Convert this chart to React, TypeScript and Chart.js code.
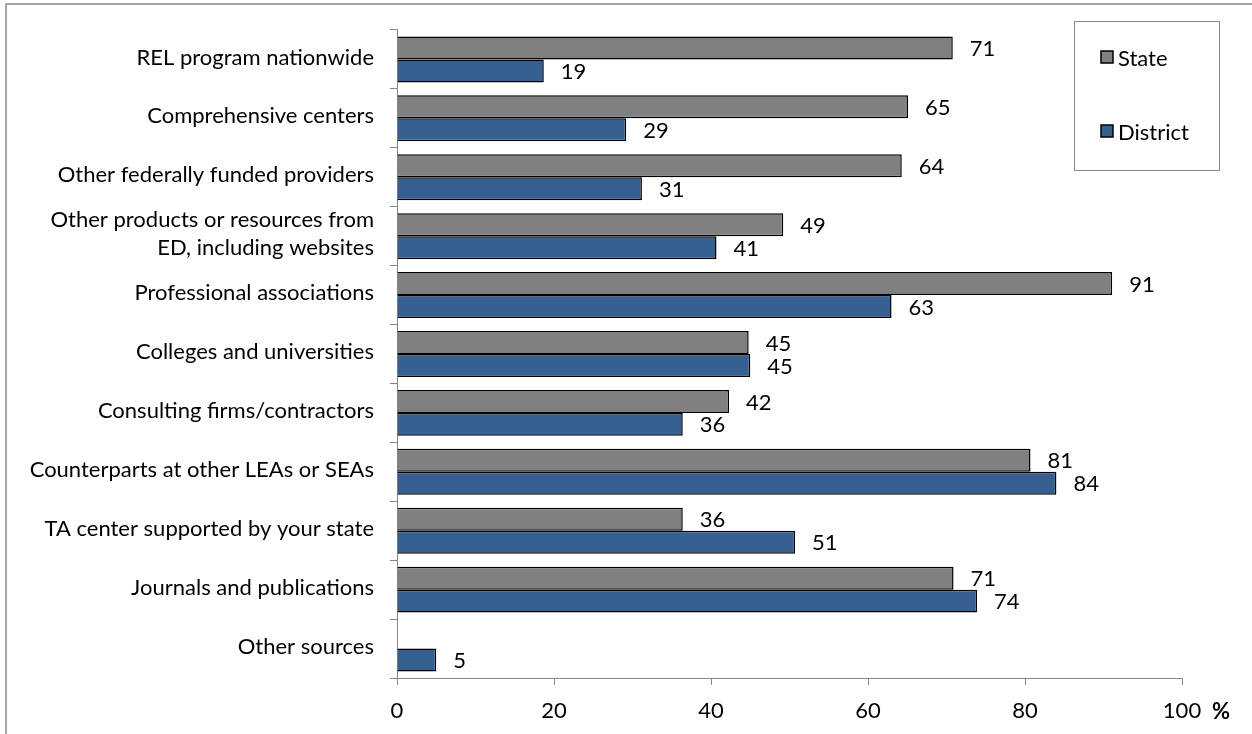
import React, { useEffect, useRef } from "react";
import { Chart, registerables } from "chart.js";

Chart.register(...registerables);

const categories: (string | string[])[] = [
  "REL program nationwide",
  "Comprehensive centers",
  "Other federally funded providers",
  ["Other products or resources from", "ED, including websites"],
  "Professional associations",
  "Colleges and universities",
  "Consulting firms/contractors",
  "Counterparts at other LEAs or SEAs",
  "TA center supported by your state",
  "Journals and publications",
  "Other sources",
];

const stateValues: (number | null)[] = [70.8, 65.1, 64.3, 49.2, 91.1, 44.8, 42.3, 80.7, 36.4, 70.9, null];
const districtValues: (number | null)[] = [18.7, 29.2, 31.2, 40.7, 63.0, 45.0, 36.4, 84.0, 50.7, 73.9, 5.0];

const xTicks = [0, 20, 40, 60, 80, 100];
const seriesNames = ["State", "District"];
const seriesColors = ["#808080", "#376092"];

const FONT = "Lato";
const FS = 22;
const AXIS = "#868686";

const bgPlugin = {
  id: "bgBorder",
  beforeDraw(chart: any) {
    const ctx = chart.ctx;
    ctx.save();
    ctx.fillStyle = "#fff";
    ctx.fillRect(0, 0, chart.width, chart.height);
    ctx.strokeStyle = "#898989";
    ctx.lineWidth = 1.5;
    ctx.beginPath();
    ctx.moveTo(6, chart.height);
    ctx.lineTo(6, 4);
    ctx.lineTo(chart.width, 4);
    ctx.stroke();
    ctx.restore();
  },
};

const labelPlugin = {
  id: "valueLabels",
  afterDatasetsDraw(chart: any) {
    const ctx = chart.ctx;
    ctx.save();
    ctx.font = `${FS}px ${FONT}`;
    ctx.fillStyle = "#000";
    ctx.textAlign = "left";
    ctx.textBaseline = "middle";
    chart.data.datasets.forEach((ds: any, di: number) => {
      const meta = chart.getDatasetMeta(di);
      meta.data.forEach((el: any, i: number) => {
        const v = ds.data[i];
        if (v === null || v === undefined) return;
        ctx.fillText(String(Math.round(v)), el.x + 17, el.y + 1);
      });
    });
    // axis unit
    ctx.font = `bold ${FS}px ${FONT}`;
    ctx.textAlign = "center";
    ctx.fillText("%", 1221, 712);
    ctx.restore();
  },
};

const legendPlugin = {
  id: "boxLegend",
  afterDraw(chart: any) {
    const ctx = chart.ctx;
    ctx.save();
    ctx.fillStyle = "#fff";
    ctx.fillRect(1074, 21, 145, 149);
    ctx.strokeStyle = AXIS;
    ctx.lineWidth = 1;
    ctx.strokeRect(1074.5, 21.5, 145, 149);
    const ys = [57, 131];
    chart.data.datasets.forEach((ds: any, i: number) => {
      const y = ys[i];
      ctx.fillStyle = ds.backgroundColor;
      ctx.fillRect(1101, y - 6, 12, 12);
      ctx.strokeStyle = "#000";
      ctx.lineWidth = 1.5;
      ctx.strokeRect(1101, y - 6, 12, 12);
      ctx.fillStyle = "#000";
      ctx.font = `${FS}px ${FONT}`;
      ctx.textAlign = "left";
      ctx.textBaseline = "middle";
      ctx.fillText(ds.label, 1118, y + 2);
    });
    ctx.restore();
  },
};

export default function App() {
  const ref = useRef<HTMLCanvasElement>(null);
  useEffect(() => {
    if (!ref.current) return;
    const chart = new Chart(ref.current, {
      type: "bar",
      data: {
        labels: categories as any,
        datasets: [
          {
            label: seriesNames[0],
            data: stateValues as any,
            backgroundColor: seriesColors[0],
            borderColor: "#000",
            borderWidth: 1.5,
            categoryPercentage: 0.78,
            barPercentage: 1.0,
          },
          {
            label: seriesNames[1],
            data: districtValues as any,
            backgroundColor: seriesColors[1],
            borderColor: "#000",
            borderWidth: 1.5,
            categoryPercentage: 0.78,
            barPercentage: 1.0,
          },
        ],
      },
      options: {
        indexAxis: "y",
        responsive: false,
        animation: false,
        devicePixelRatio: 1,
        layout: { padding: { top: 22, right: 70, bottom: 0, left: 0 } },
        plugins: { legend: { display: false }, tooltip: { enabled: false } },
        scales: {
          x: {
            type: "linear",
            min: 0,
            max: 100,
            afterBuildTicks: (s: any) => {
              s.ticks = xTicks.map((v) => ({ value: v }));
            },
            afterFit: (s: any) => {
              s.height = 56;
            },
            ticks: { font: { family: FONT, size: FS }, color: "#000", padding: 13, maxRotation: 0 },
            grid: { drawOnChartArea: false, tickLength: 7, color: AXIS },
            border: { color: AXIS, width: 1 },
          },
          y: {
            type: "category",
            afterFit: (s: any) => {
              s.width = 397;
            },
            ticks: {
              font: { family: FONT, size: FS, lineHeight: 1.27 },
              color: "#000",
              padding: 16,
              labelOffset: -2,
              autoSkip: false,
            },
            grid: { drawOnChartArea: false, tickLength: 7, color: AXIS, offset: true },
            border: { color: AXIS, width: 1 },
          },
        },
      },
      plugins: [bgPlugin, labelPlugin, legendPlugin],
    });
    return () => chart.destroy();
  }, []);
  return (
    <div style={{ position: "fixed", left: 0, top: 0, width: 1252, height: 734, overflow: "hidden" }}>
      <canvas ref={ref} width={1252} height={734} />
    </div>
  );
}
